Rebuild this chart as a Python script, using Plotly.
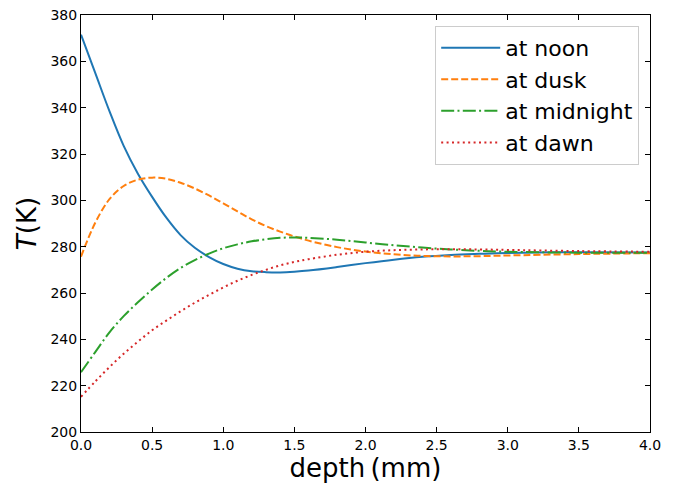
import plotly.graph_objects as go

depth = [0.0, 0.1, 0.2, 0.3, 0.4, 0.5, 0.6, 0.7, 0.8, 0.9, 1.0, 1.1, 1.2, 1.3, 1.4, 1.5, 1.6,
         1.8, 2.0, 2.2, 2.4, 2.6, 2.8, 3.0, 3.5, 4.0]
t_noon = [371.5, 355.0, 338.5, 323.5, 311.5, 301.5, 292.5, 285.0, 279.5, 275.5, 272.5, 270.5,
          269.4, 269.0, 268.9, 269.2, 269.7, 271.2, 272.9, 274.4, 275.6, 276.4, 276.9, 277.3,
          277.6, 277.5]
t_dusk = [275.7, 290.3, 300.5, 306.2, 308.9, 309.8, 309.3, 307.6, 305.1, 302.1, 298.7, 295.2,
          291.8, 288.9, 286.5, 284.4, 282.6, 279.8, 277.9, 276.7, 276.0, 275.8, 275.9, 276.2,
          276.8, 277.2]
t_midnight = [225.8, 234.5, 243.0, 250.0, 256.0, 261.5, 266.5, 270.8, 274.2, 277.0, 279.3,
              281.0, 282.3, 283.2, 283.8, 284.0, 283.8, 283.0, 281.8, 280.6, 279.6, 278.8,
              278.2, 277.8, 277.4, 277.4]
t_dawn = [215.2, 221.8, 228.0, 233.8, 239.0, 243.9, 248.1, 252.1, 255.8, 259.2, 262.4, 265.3,
          267.8, 270.0, 271.9, 273.4, 274.6, 276.5, 277.8, 278.5, 278.8, 278.9, 278.8, 278.6,
          278.1, 277.8]

series = [
    ("at noon", t_noon, "#1f77b4", "solid"),
    ("at dusk", t_dusk, "#ff7f0e", "7px,3px"),
    ("at midnight", t_midnight, "#2ca02c", "13px,3.3px,2px,3.3px"),
    ("at dawn", t_dawn, "#d62728", "2px,3.4px"),
]

fig = go.Figure()
for name, vals, color, dash in series:
    fig.add_trace(go.Scatter(x=depth, y=vals, mode="lines", name=name,
                             line=dict(color=color, width=2, dash=dash, shape="spline",
                                       smoothing=1.0)))

axis_common = dict(showgrid=False, zeroline=False, showline=True, linecolor="black",
                   linewidth=1, mirror="ticks", ticks="inside", ticklen=5, tickwidth=1,
                   tickcolor="black", tickfont=dict(size=14, color="black"),
                   ticklabeloverflow="allow", automargin=False)

fig.update_layout(
    width=678, height=483,
    margin=dict(l=81, r=28, t=15, b=51, autoexpand=False),
    paper_bgcolor="white", plot_bgcolor="white",
    font=dict(family="DejaVu Sans", color="black"),
    xaxis=dict(range=[0, 4], tickvals=[0, 0.5, 1, 1.5, 2, 2.5, 3, 3.5, 4],
               ticktext=["0.0", "0.5", "1.0", "1.5", "2.0", "2.5", "3.0", "3.5", "4.0"],
               title=dict(text="depth\u2009(mm)", font=dict(size=26), standoff=3),
               **axis_common),
    yaxis=dict(range=[200, 380], tickvals=list(range(200, 381, 20)),
               title=dict(text="<i>T</i>(K)", font=dict(size=26), standoff=6),
               **axis_common),
    legend=dict(x=0.981, y=0.974, xanchor="right", yanchor="top",
                bordercolor="#cccccc", borderwidth=1, bgcolor="rgba(255,255,255,0.8)",
                font=dict(size=22), tracegroupgap=0, itemwidth=59),
    showlegend=True,
)

fig.write_html("out.html", config={"displayModeBar": False},
               post_script="document.body.style.margin='0';")
